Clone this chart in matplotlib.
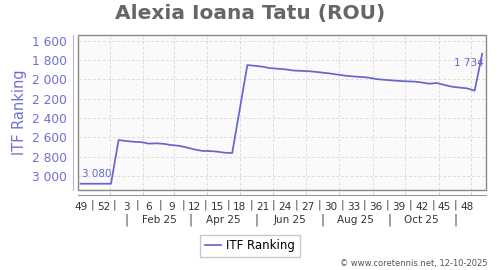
import datetime as dt
import matplotlib
matplotlib.use('Agg')
import matplotlib.pyplot as plt
import matplotlib.dates as mdates
from matplotlib.patches import Rectangle
from matplotlib.ticker import FuncFormatter

# weekly ITF ranking (Thursdays)
dates = ['2024-12-05', '2024-12-12', '2024-12-19', '2024-12-26', '2025-01-02',
         '2025-01-09', '2025-01-16', '2025-01-23', '2025-01-30', '2025-02-06',
         '2025-02-13', '2025-02-20', '2025-02-27', '2025-03-06', '2025-03-13',
         '2025-03-20', '2025-03-27', '2025-04-03', '2025-04-10', '2025-04-17',
         '2025-04-24', '2025-05-08', '2025-05-15', '2025-05-22', '2025-05-29',
         '2025-06-05', '2025-06-12', '2025-06-19', '2025-06-26', '2025-07-03',
         '2025-07-10', '2025-07-17', '2025-07-24', '2025-07-31', '2025-08-07',
         '2025-08-14', '2025-08-21', '2025-08-28', '2025-09-04', '2025-09-11',
         '2025-09-18', '2025-09-25', '2025-10-02', '2025-10-09', '2025-10-16',
         '2025-10-23', '2025-10-30', '2025-11-06', '2025-11-13', '2025-11-20',
         '2025-11-27', '2025-12-04', '2025-12-11']
ranking = [3080, 3080, 3080, 3080, 3080,
           2628, 2638, 2646, 2650, 2665,
           2662, 2668, 2680, 2688, 2705,
           2725, 2740, 2742, 2748, 2759,
           2762, 1852, 1860, 1869, 1884,
           1890, 1896, 1908, 1912, 1915,
           1922, 1931, 1940, 1952, 1963,
           1970, 1975, 1982, 1997, 2004,
           2010, 2016, 2020, 2023, 2032,
           2045, 2038, 2058, 2076, 2085,
           2093, 2117, 1734]

week_labels = [49, 52, 3, 6, 9, 12, 15, 18, 21, 24, 27, 30, 33, 36, 39, 42, 45, 48]
week_years = [2024, 2024] + [2025] * 16
month_labels = ['Feb 25', 'Apr 25', 'Jun 25', 'Aug 25', 'Oct 25']
month_nums = [2, 4, 6, 8, 10]
y_ticks = [1600, 1800, 2000, 2200, 2400, 2600, 2800, 3000]

blue = '#6666cc'
x = [dt.datetime.strptime(d, '%Y-%m-%d') for d in dates]

fig = plt.figure(figsize=(5, 2.7), dpi=100)
ax = fig.add_axes([78 / 500, 1 - 190 / 270, 408 / 500, 155 / 270])
ax.set_facecolor('#fafafa')

ax.plot(x, ranking, color=blue, lw=1.25, label='ITF Ranking')

ax.set_ylim(3145, 1541)
ax.set_xlim(dt.datetime(2024, 12, 2, 12), dt.datetime(2025, 12, 14, 12))
ax.set_yticks(y_ticks)
ax.yaxis.set_major_formatter(FuncFormatter(lambda v, p: f'{int(v):,}'.replace(',', ' ')))
ax.tick_params(axis='y', length=0, pad=4.5, labelsize=8.8, labelcolor='#6f6fd6')

# month gridlines / ticks, week labels as minor ticks
ax.xaxis.remove_overlapping_locs = False
ax.xaxis.set_major_locator(mdates.MonthLocator())
ax.xaxis.set_major_formatter(plt.NullFormatter())
week_pos = [dt.datetime.combine(dt.date.fromisocalendar(y, w, 4), dt.time())
            for y, w in zip(week_years, week_labels)]
ax.set_xticks(week_pos, minor=True)
ax.set_xticklabels([str(w) for w in week_labels], minor=True)
ax.tick_params(axis='x', which='major', direction='in', length=2.5, color='#cccccc')
ax.tick_params(axis='x', which='minor', length=0, pad=5, labelsize=7.5, labelcolor='#333333')

ax.grid(True, which='major', color='#dddddd', ls=(0, (3, 2)), lw=0.7)
ax.set_axisbelow(True)

for s in ['top', 'right']:
    ax.spines[s].set_visible(False)
ax.spines['left'].set_position(('outward', 3.6))
ax.spines['left'].set_color('#b4b4e4')
ax.spines['bottom'].set_position(('outward', 3.6))
ax.spines['bottom'].set_color('#999999')
ax.add_patch(Rectangle((0, 0), 1, 1, transform=ax.transAxes, fill=False,
                       edgecolor='#888888', lw=1, clip_on=False, zorder=5))

# separators between week labels and second row with months
tr = ax.get_xaxis_transform()
step = dt.timedelta(days=10.5)
for p in week_pos[:-1]:
    ax.text(p + step, -0.095, '|', transform=tr, ha='center', va='center',
            fontsize=7.5, color='#444444')
for m, lab in zip(month_nums, month_labels):
    ax.text(dt.datetime(2025, m, 16), -0.195, lab, transform=tr, ha='center',
            va='center', fontsize=7.5, color='#333333')
for m in [1, 3, 5, 7, 9, 11]:
    ax.text(dt.datetime(2025, m, 16), -0.195, '|', transform=tr, ha='center',
            va='center', fontsize=8.5, color='#444444')

ax.annotate(f'{ranking[0]:,}'.replace(',', ' '), (x[0], ranking[0]), xytext=(1, 3.5),
            textcoords='offset points', ha='left', va='bottom', fontsize=7.5, color=blue)
ax.annotate(f'{ranking[-1]:,}'.replace(',', ' '), (x[-1], ranking[-1]), xytext=(1, -3),
            textcoords='offset points', ha='right', va='top', fontsize=7.5, color=blue)

ax.set_ylabel('ITF Ranking', fontsize=10.5, color='#7070d2')
ax.yaxis.set_label_coords((27 - 78) / 408, 0.5)
fig.suptitle('Alexia Ioana Tatu (ROU)', x=0.5, y=1 - 13.5 / 270, va='center',
             fontsize=14.5, fontweight='bold', color='#666666')

ax.legend(loc='center', bbox_to_anchor=(250 / 500, 1 - 245.8 / 270),
          bbox_transform=fig.transFigure, fontsize=8.5, frameon=True, fancybox=False,
          edgecolor='#bbbbbb', handlelength=1.4, borderpad=0.4, handletextpad=0.4)

fig.text(487 / 500, 1 - 263.5 / 270, '\u00a9 www.coretennis.net, 12-10-2025',
         ha='right', va='center', fontsize=6, color='#555555')

fig.savefig('out.png', dpi=100)
